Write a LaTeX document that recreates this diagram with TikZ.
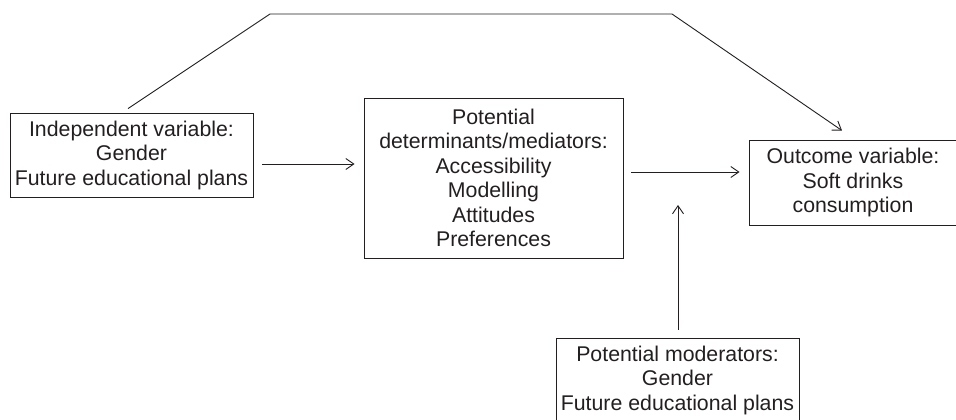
\documentclass[tikz,border=0pt]{standalone}
\usepackage{fontspec}
\setmainfont{Liberation Sans}
\usetikzlibrary{arrows.meta}
\definecolor{inkgray}{HTML}{231F20}
\begin{document}
\begin{tikzpicture}[x=1pt, y=-1pt, font=\fontsize{21.3}{24.5}\selectfont, color=inkgray, line width=0.9pt,
	box/.style={draw, align=center, inner sep=0pt},
	>={Straight Barb[length=8pt,width=11pt]}]
	%frame
	\clip (0,0) rectangle (956,420);
	%boxes
	\node[box, minimum width=243pt, minimum height=84pt] (indep) at (131.5,155)
	{Independent variable:\\Gender\\Future educational plans};
	\node[box, minimum width=259pt, minimum height=160pt] (mediators) at (493.5,178)
	{Potential\\determinants/mediators:\\Accessibility\\Modelling\\Attitudes\\Preferences};
	\node[box, minimum width=208pt, minimum height=85pt] (outcome) at (853,182.5)
	{Outcome variable:\\Soft drinks\\consumption};
	\node[box, minimum width=243pt, minimum height=84pt] (moderators) at (677.5,380)
	{Potential moderators:\\Gender\\Future educational plans};
	%bends
	\coordinate (bendl) at (270,14);
	\coordinate (bendr) at (672,14);
	\coordinate (modtip) at (678,205);
	%arrows
	\draw[->] ([shift={(9pt,-9pt)}]indep.east) -- ([shift={(-9pt,14pt)}]mediators.west);
	\draw[->] ([shift={(8pt,6pt)}]mediators.east) -- ([shift={(-9pt,10.5pt)}]outcome.west);
	\draw[->] ([shift={(0.5pt,8pt)}]moderators.north) -- (modtip);
	\draw[->] ([shift={(-3.5pt,4pt)}]indep.north) -- (bendl) -- (bendr)
	-- ([shift={(-11pt,9pt)}]outcome.north);
\end{tikzpicture}
\end{document}
